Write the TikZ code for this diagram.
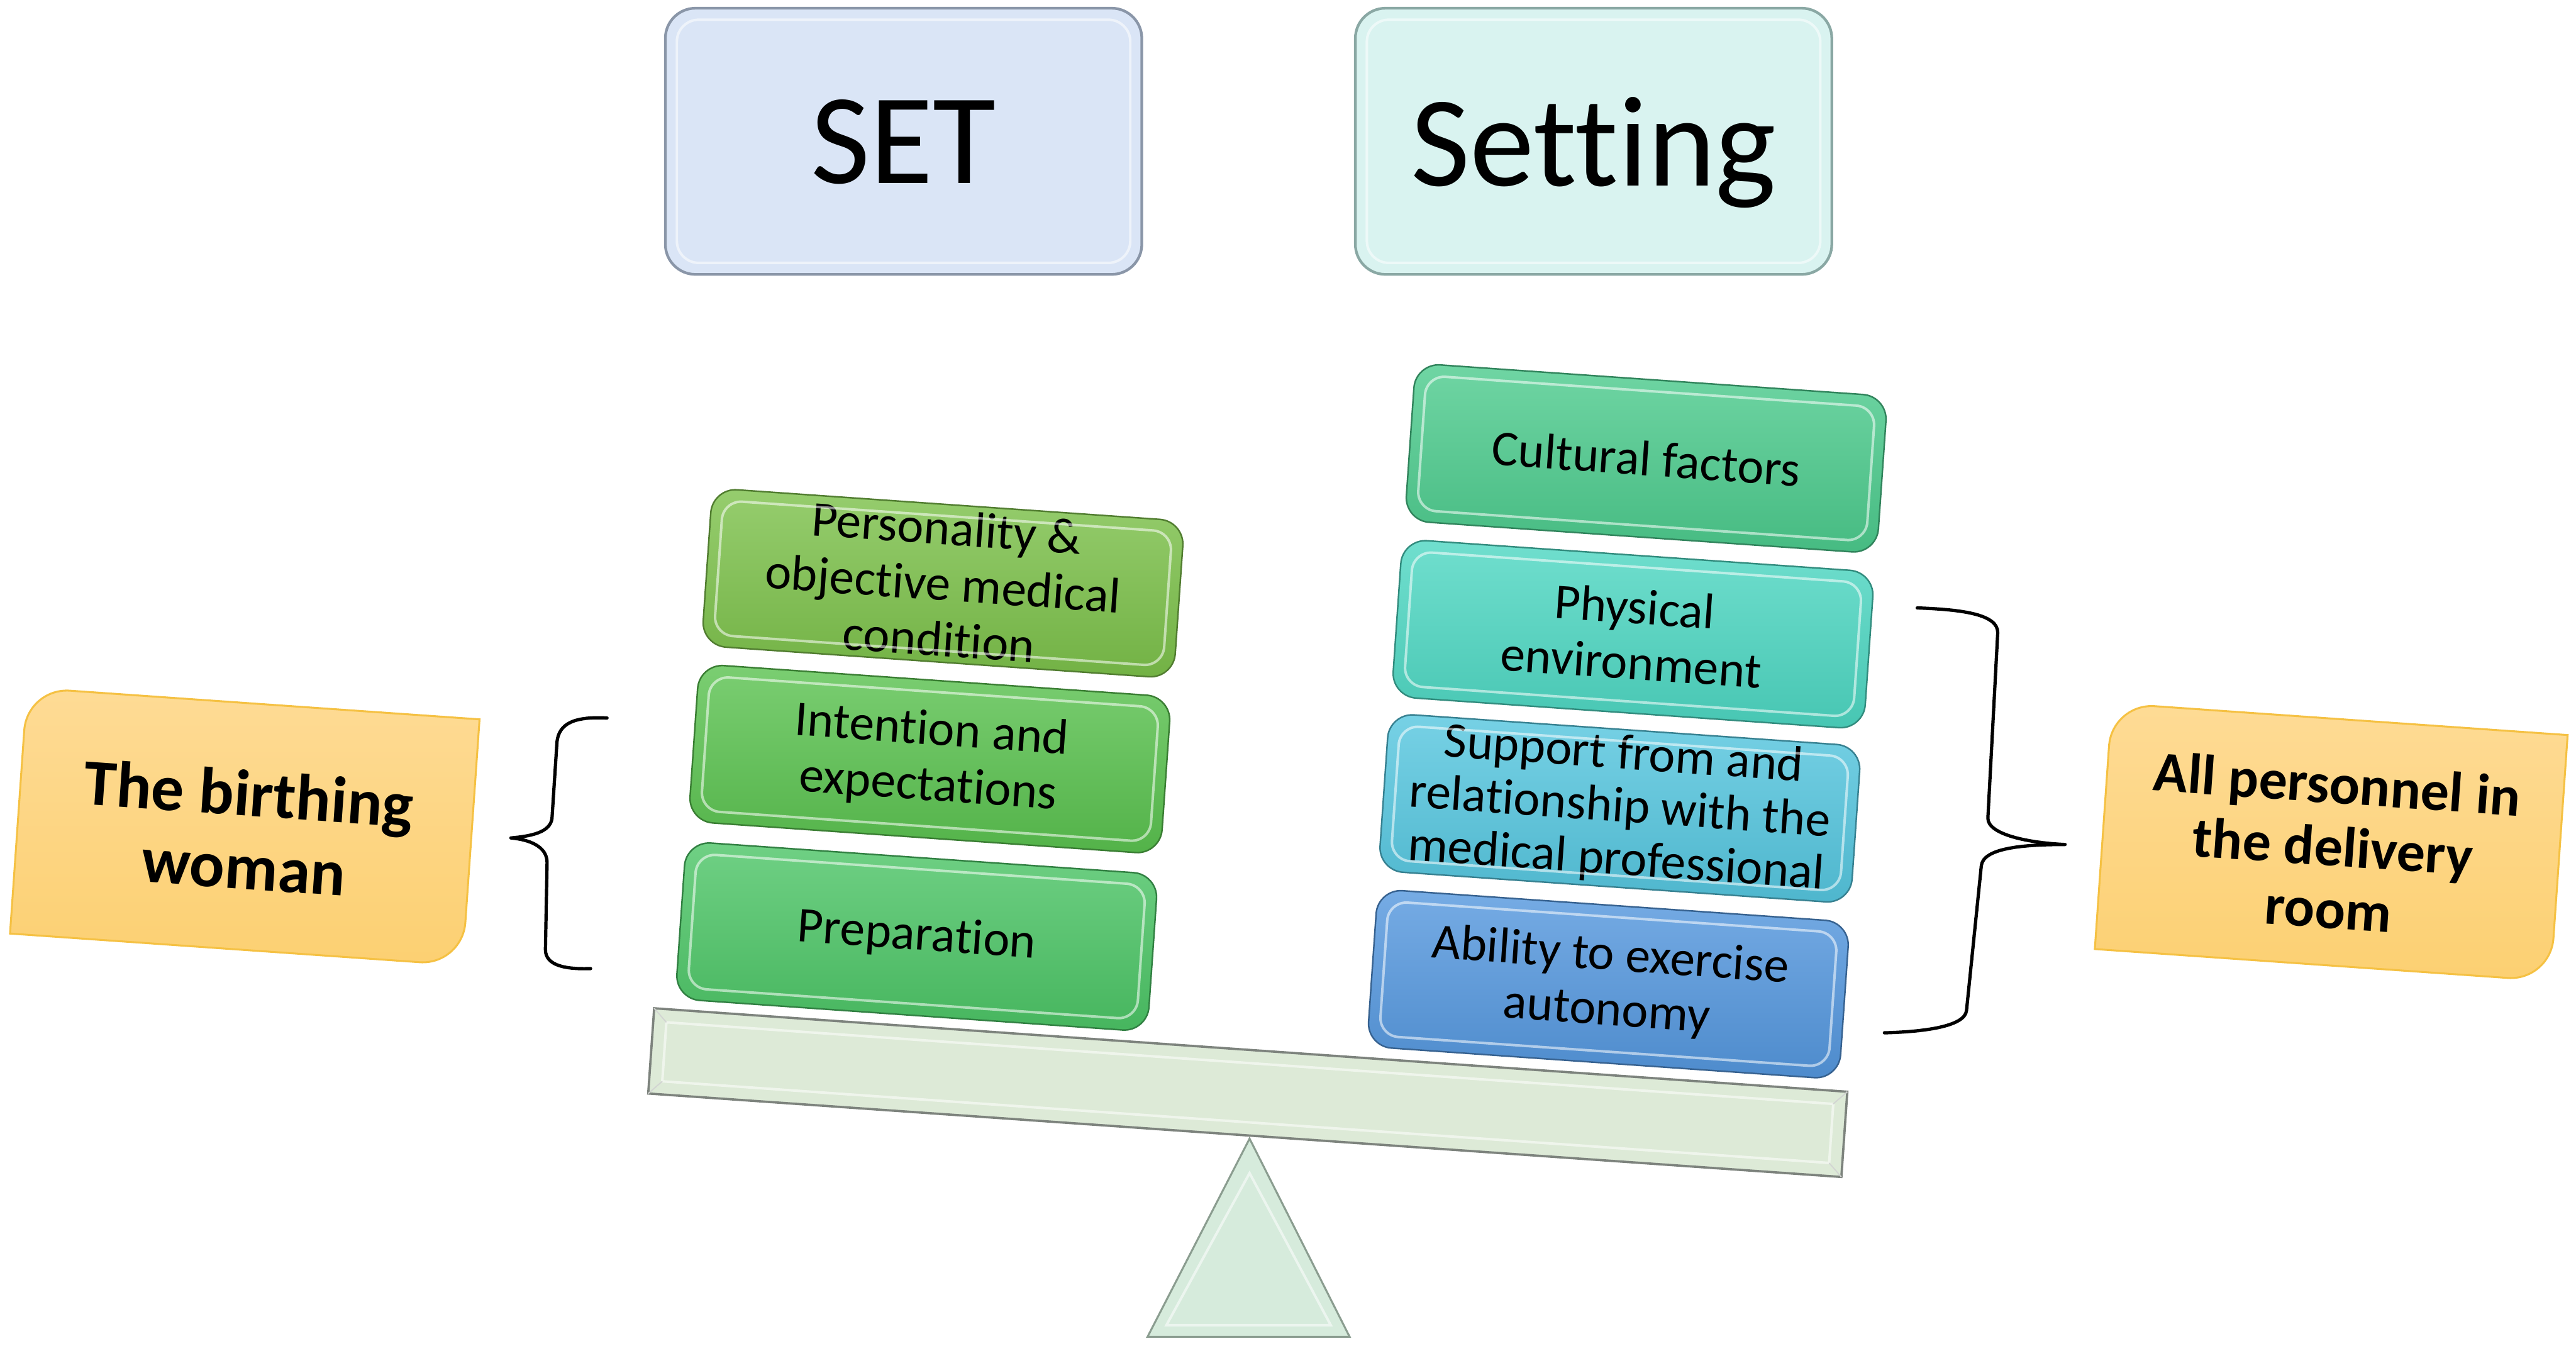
\documentclass[tikz,border=0pt]{standalone}
\usepackage{fontspec}
\setmainfont{Carlito}[Ligatures=NoCommon]
\definecolor{setfill}{HTML}{DAE5F6}
\definecolor{setdraw}{HTML}{8A96A8}
\definecolor{settingfill}{HTML}{D9F3F0}
\definecolor{settingdraw}{HTML}{8AA8A4}
\definecolor{cPers}{HTML}{7CC14A}
\definecolor{cInt}{HTML}{5AC24F}
\definecolor{cPrep}{HTML}{4CC566}
\definecolor{cCult}{HTML}{4CCB8D}
\definecolor{cPhys}{HTML}{4DD7C2}
\definecolor{cSupp}{HTML}{55C6DF}
\definecolor{cAbil}{HTML}{5497DE}
\definecolor{orTop}{HTML}{FEDB95}
\definecolor{orBot}{HTML}{FCD072}
\definecolor{ordraw}{HTML}{F5C143}
\definecolor{beamfill}{HTML}{DDEAD7}
\definecolor{beamdraw}{HTML}{7D837D}
\definecolor{trifill}{HTML}{D6EBDC}
\definecolor{tridraw}{HTML}{8B9D90}
\begin{document}
\begin{tikzpicture}[x=0.03cm,y=-0.03cm,
  topbox/.style={rectangle, rounded corners=0.55cm, minimum width=8.7cm, minimum height=4.86cm, line width=1.4pt, text depth=0pt, inner sep=0pt, font=\fontsize{67}{70}\selectfont},
  greenbox/.style={rectangle, rounded corners=0.45cm, minimum width=8.64cm, minimum height=2.88cm, rotate=-4, align=center, inner sep=0pt, top color=#1!80!white, bottom color=#1!92!black, draw=#1!65!black, line width=0.8pt, font=\fontsize{26}{29}\selectfont},
  orangetext/.style={rotate=-4, align=center, inner sep=0pt, font=\bfseries\fontsize{34}{38}\selectfont},
  orangeshape/.style={top color=orTop, bottom color=orBot, draw=ordraw, line width=1pt},
  hilite/.style={white, opacity=0.55, line width=1.3pt},
  bracestyle/.style={line width=1.7pt, line cap=round, line join=round}
]
\useasboundingbox (0,0) rectangle (1568,819);

% top boxes
\node[topbox, fill=setfill, draw=setdraw] (set) at (550,86) {SET};
\node[topbox, fill=settingfill, draw=settingdraw] (setting) at (970,86) {Setting};
\foreach \n in {set,setting}{
  \draw[hilite, rounded corners=0.4cm] ([shift={(-138,-74)}]\n.center) rectangle ([shift={(138,74)}]\n.center);
}

% fulcrum
\path[fill=trifill, draw=tridraw, line width=1pt] (760.6,693) -- (821.5,813.6) -- (698.5,813.6) -- cycle;
\draw[hilite] (760.6,714) -- (810,806.5) -- (710,806.5) -- cycle;

% beam
\node[rectangle, rotate=-4, minimum width=21.84cm, minimum height=1.56cm, fill=beamfill, draw=beamdraw, line width=1.2pt, inner sep=0pt] (beam) at (759.5,665) {};
\begin{scope}[shift={(beam.center)}, rotate=-4]
  \draw[hilite] (-356,-18) rectangle (356,18);
  \draw[beamdraw!35, line width=0.6pt] (-364,-26) -- (-356,-18) (364,-26) -- (356,-18) (-364,26) -- (-356,18) (364,26) -- (356,18);
\end{scope}

% left stack
\node[greenbox=cPers] (pers) at (574,355) {Personality \&\\objective medical\\condition};
\node[greenbox=cInt] (inte) at (566,462) {Intention and\\expectations};
\node[greenbox=cPrep] (prep) at (558,570) {Preparation};

% right stack
\node[greenbox=cCult] (cult) at (1002,279) {Cultural factors};
\node[greenbox=cPhys] (phys) at (994,386) {Physical\\environment};
\node[greenbox=cSupp, font=\fontsize{26}{27.5}\selectfont] (supp) at (986,492) {Support from and\\relationship with the\\medical professional};
\node[greenbox=cAbil, font=\fontsize{26}{28.5}\selectfont] (abil) at (979,599) {Ability to exercise\\autonomy};

\foreach \n in {pers,inte,prep,cult,phys,supp,abil}{
  \begin{scope}[shift={(\n.center)}, rotate=-4]
    \draw[hilite, rounded corners=0.35cm] (-137,-41) rectangle (137,41);
  \end{scope}
}

% braces
\draw[bracestyle] (369.5,437) .. controls (350,436) and (340,440) .. (339,452) -- (336,498) .. controls (335,507) and (322,509) .. (311,510) .. controls (322,511) and (333,515) .. (333,525) -- (332,578) .. controls (332,588) and (345,590) .. (359.5,589.5);
\draw[bracestyle] (1167,370) .. controls (1195,371) and (1216,374) .. (1216,385) -- (1210,498) .. controls (1210,508) and (1235,513) .. (1257,514) .. controls (1232,514) and (1207,516) .. (1206,527) -- (1197,615) .. controls (1196,625) and (1170,628) .. (1147,628.6);

% orange boxes
\begin{scope}[shift={(149,503)}, rotate=-4]
  \draw[orangeshape] (-138,75) -- (-138,-49) .. controls (-138,-63.4) and (-126.4,-75) .. (-112,-75) -- (138,-75) -- (138,49) .. controls (138,63.4) and (126.4,75) .. (112,75) -- cycle;
\end{scope}
\node[orangetext] (woman) at (150,505) {The birthing\\woman};

\begin{scope}[shift={(1419,512.5)}, rotate=-4]
  \draw[orangeshape] (-139,75) -- (-139,-49) .. controls (-139,-63.4) and (-127.4,-75) .. (-113,-75) -- (139,-75) -- (139,49) .. controls (139,63.4) and (127.4,75) .. (113,75) -- cycle;
\end{scope}
\node[orangetext, font=\bfseries\fontsize{29.5}{32.5}\selectfont] (personnel) at (1420,515) {All personnel in\\the delivery\\room};
\end{tikzpicture}
\end{document}
